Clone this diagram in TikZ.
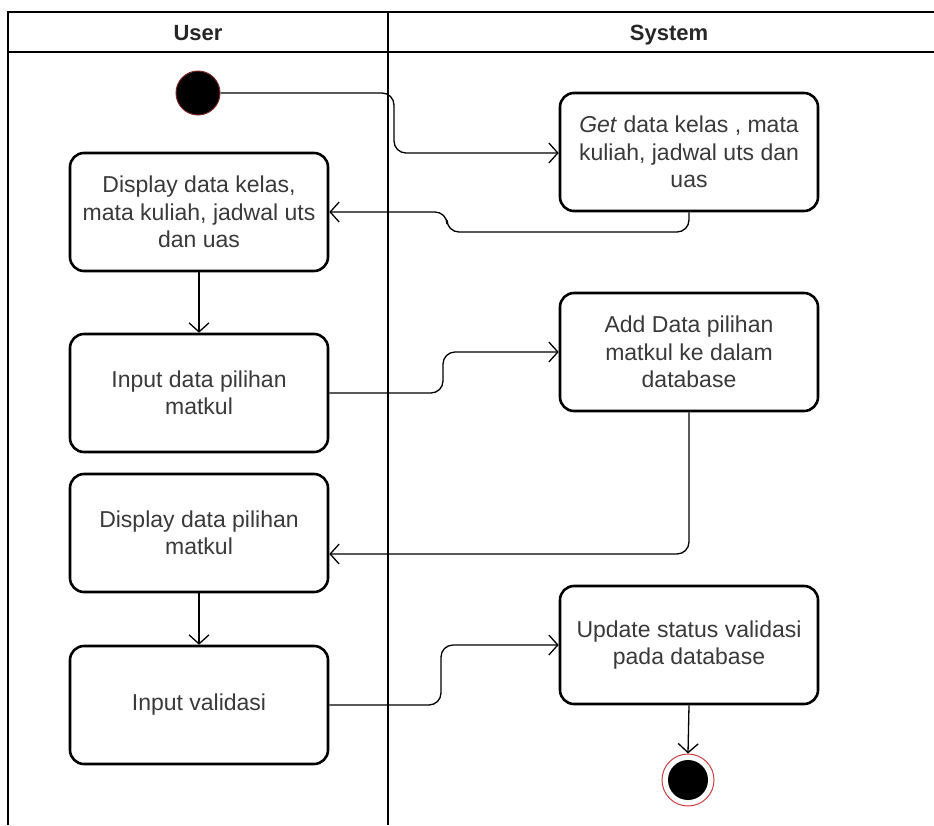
\documentclass[tikz,border=0pt]{standalone}
\usepackage{fontspec}
\setmainfont{Liberation Sans}
\usetikzlibrary{arrows.meta}
\definecolor{txt}{HTML}{3A3A3A}
\definecolor{ringred}{HTML}{D04040}
\tikzset{
  act/.style={draw=black, line width=2.6pt, rounded corners=14pt, fill=white,
    minimum width=258pt, minimum height=118pt, align=center, text=txt,
    font=\fontsize{23}{27.5}\selectfont, inner sep=2pt},
  flow/.style={draw=black, line width=1.3pt, rounded corners=12pt,
    -{Straight Barb[length=9pt,width=20pt,line width=1.3pt]}},
  lane/.style={draw=black, line width=1.6pt},
  lanehead/.style={font=\fontsize{22}{24}\selectfont\bfseries, text=black!85, anchor=base},
}
\begin{document}
\begin{tikzpicture}[x=1pt, y=-1pt]
  \useasboundingbox (0,0) rectangle (934,825);
  \fill[white] (0,0) rectangle (934,825);

  % swimlanes
  \draw[lane] (8,825) -- (8,12) -- (934,12);
  \draw[lane] (8,52) -- (934,52);
  \draw[lane] (388,12) -- (388,825);
  \node[lanehead] (huser) at (198,40) {User};
  \node[lanehead] (hsys) at (669,40) {System};

  % start and end markers
  \node[circle, fill=black, draw=ringred!60!black, line width=1pt,
        minimum size=44pt, inner sep=0pt] (start) at (198,93) {};
  \node[circle, draw=ringred, line width=1pt, fill=white,
        minimum size=52pt, inner sep=0pt] (finish) at (688,780) {};
  \fill[black] (finish.center) circle (20pt);

  % activities
  \node[act] (getdata) at (689,152) {\textit{Get} data kelas , mata\\kuliah, jadwal uts dan\\uas};
  \node[act] (dispkelas) at (199,212) {Display data kelas,\\mata kuliah, jadwal uts\\dan uas};
  \node[act] (inpilih) at (199,393) {Input data pilihan\\matkul};
  \node[act] (adddata) at (689,352) {Add Data pilihan\\matkul ke dalam\\database};
  \node[act] (disppilih) at (199,533) {Display data pilihan\\matkul};
  \node[act] (update) at (689,645) {Update status validasi\\pada database};
  \node[act] (invalid) at (199,705) {Input validasi};

  % flows
  \draw[flow] (start.east) -- (394,93) -- (394,153) -- (getdata.west |- 0,153);
  \draw[flow] (getdata.south) -- (689,232) -- (447,232) -- (447,212) -- (dispkelas.east);
  \draw[flow] (dispkelas.south) -- (inpilih.north);
  \draw[flow] (inpilih.east) -- (443,393) -- (443,352) -- (adddata.west);
  \draw[flow] (adddata.south) -- (689,554) -- (disppilih.east |- 0,554);
  \draw[flow] (disppilih.south) -- (invalid.north);
  \draw[flow] (invalid.east) -- (441,705) -- (441,645) -- (update.west);
  \draw[flow] (update.south) -- (finish.north);
\end{tikzpicture}
\end{document}
